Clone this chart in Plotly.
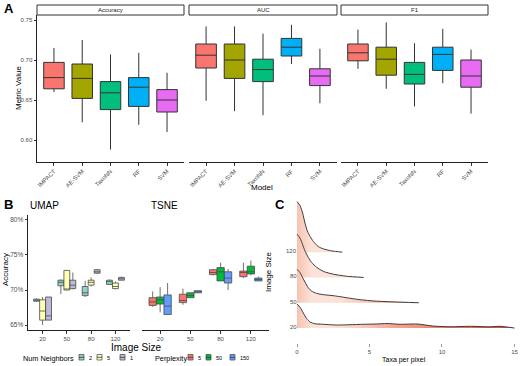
import plotly.graph_objects as go

W, H = 520, 366
FONT = "Liberation Sans, Arial, sans-serif"

# ---------------- Panel A data ----------------
models = ["IMPACT", "AE-SVM", "TaxoNN", "RF", "SVM"]
metrics = ["Accuracy", "AUC", "F1"]
model_colors = ["#F8766D", "#A3A500", "#00BF7D", "#00B0F6", "#E76BF3"]

acc_low = [0.660, 0.622, 0.588, 0.619, 0.610]
acc_q1 = [0.664, 0.652, 0.638, 0.642, 0.635]
acc_med = [0.678, 0.677, 0.659, 0.666, 0.650]
acc_q3 = [0.697, 0.695, 0.673, 0.678, 0.663]
acc_high = [0.715, 0.725, 0.707, 0.709, 0.684]

auc_low = [0.649, 0.636, 0.631, 0.695, 0.646]
auc_q1 = [0.690, 0.677, 0.673, 0.705, 0.668]
auc_med = [0.706, 0.700, 0.688, 0.716, 0.680]
auc_q3 = [0.720, 0.720, 0.701, 0.727, 0.689]
auc_high = [0.742, 0.742, 0.733, 0.744, 0.714]

f1_low = [0.689, 0.664, 0.642, 0.671, 0.633]
f1_q1 = [0.699, 0.681, 0.670, 0.687, 0.666]
f1_med = [0.709, 0.701, 0.682, 0.707, 0.680]
f1_q3 = [0.720, 0.716, 0.697, 0.716, 0.700]
f1_high = [0.738, 0.747, 0.721, 0.739, 0.713]

# ---------------- Panel B data ----------------
image_sizes = ["20", "50", "80", "120"]
neighbors = ["2", "5", "1"]
neighbor_colors = ["#8DD3C7", "#FFFFB3", "#BEBADA"]
umap_low = [[68.3, 69.4, 69.0, 70.8], [65.0, 70.0, 70.5, 70.1], [65.7, 70.1, 72.3, 71.4]]
umap_q1 = [[68.4, 70.6, 69.2, 70.8], [65.7, 70.0, 70.7, 70.2], [65.7, 70.2, 72.4, 71.4]]
umap_med = [[68.5, 71.1, 69.6, 71.2], [67.0, 70.1, 71.1, 70.5], [66.3, 70.7, 72.6, 71.6]]
umap_q3 = [[68.7, 71.4, 70.5, 71.4], [68.6, 72.8, 71.4, 71.0], [69.0, 71.4, 72.9, 71.8]]
umap_high = [[68.8, 71.5, 71.3, 71.5], [69.0, 72.8, 71.8, 71.2], [69.0, 72.5, 73.0, 71.9]]

perplexities = ["5", "50", "150"]
perp_colors = ["#F8766D", "#00BA38", "#619CFF"]
tsne_low = [[67.6, 67.9, 72.1, 71.7], [66.8, 68.9, 71.3, 72.1], [66.5, 69.6, 70.0, 71.3]]
tsne_q1 = [[67.8, 68.2, 72.2, 71.9], [68.0, 68.9, 71.3, 72.3], [66.5, 69.6, 71.0, 71.3]]
tsne_med = [[68.3, 68.5, 72.5, 72.5], [68.6, 69.2, 72.6, 72.6], [67.7, 69.7, 71.7, 71.5]]
tsne_q3 = [[68.9, 69.4, 72.9, 72.7], [69.0, 69.6, 73.2, 73.4], [69.3, 69.9, 72.6, 71.7]]
tsne_high = [[69.8, 70.2, 73.0, 73.9], [70.4, 69.6, 73.9, 74.2], [71.0, 69.9, 73.0, 71.9]]

# ---------------- Panel C data (density ridges) ----------------
ridge_labels = ["20", "50", "80", "120"]
ridge20_x = [0, 0.21, 0.44, 0.67, 0.9, 1.24, 1.82, 2.7, 3.6, 4.6, 5.5, 6.2, 7.1, 8.3, 9.4, 10.6, 11.9, 13.3, 14.0, 15.0]
ridge20_d = [0.95, 0.82, 0.59, 0.37, 0.24, 0.17, 0.15, 0.12, 0.13, 0.15, 0.16, 0.18, 0.15, 0.16, 0.08, 0.05, 0.07, 0.05, 0.07, 0.0]
ridge50_x = [0, 0.21, 0.39, 0.55, 0.78, 1.01, 1.36, 1.82, 2.5, 3.2, 4.1, 5.3, 6.4, 8.4]
ridge50_d = [1.32, 1.19, 0.99, 0.82, 0.59, 0.46, 0.37, 0.32, 0.28, 0.22, 0.14, 0.07, 0.04, 0.0]
ridge80_x = [0, 0.21, 0.39, 0.55, 0.78, 1.01, 1.36, 1.82, 2.5, 3.4, 4.6]
ridge80_d = [1.71, 1.55, 1.29, 1.05, 0.79, 0.59, 0.40, 0.24, 0.13, 0.05, 0.0]
ridge120_x = [0, 0.21, 0.39, 0.55, 0.71, 0.9, 1.13, 1.47, 1.82, 2.39, 3.13]
ridge120_d = [2.0, 1.84, 1.54, 1.15, 0.84, 0.62, 0.42, 0.22, 0.13, 0.05, 0.0]
c_ticks = [0, 5, 10, 15]


def px(x):
    return x / W


def py(y):
    return 1 - y / H


fig = go.Figure()

# ---- Panel A boxes ----
stats = {
    "Accuracy": (acc_low, acc_q1, acc_med, acc_q3, acc_high),
    "AUC": (auc_low, auc_q1, auc_med, auc_q3, auc_high),
    "F1": (f1_low, f1_q1, f1_med, f1_q3, f1_high),
}
for k, m in enumerate(metrics):
    lo, q1, md, q3, hi = stats[m]
    xa = "x" if k == 0 else f"x{k+1}"
    ya = "y" if k == 0 else f"y{k+1}"
    for i, mod in enumerate(models):
        fig.add_trace(go.Box(
            x=[mod], lowerfence=[lo[i]], q1=[q1[i]], median=[md[i]], q3=[q3[i]], upperfence=[hi[i]],
            xaxis=xa, yaxis=ya, offsetgroup="A", fillcolor=model_colors[i],
            line=dict(color="#333333", width=1), whiskerwidth=0, boxpoints=False,
            showlegend=False, hoverinfo="skip"))

# ---- Panel B boxes ----
for j, nb in enumerate(neighbors):
    fig.add_trace(go.Box(
        x=image_sizes, lowerfence=umap_low[j], q1=umap_q1[j], median=umap_med[j], q3=umap_q3[j],
        upperfence=umap_high[j], xaxis="x4", yaxis="y4", offsetgroup=f"u{j}",
        fillcolor=neighbor_colors[j], line=dict(color="#4a4a4a", width=0.8), whiskerwidth=0,
        boxpoints=False, showlegend=False, hoverinfo="skip"))
for j, pp in enumerate(perplexities):
    fig.add_trace(go.Box(
        x=image_sizes, lowerfence=tsne_low[j], q1=tsne_q1[j], median=tsne_med[j], q3=tsne_q3[j],
        upperfence=tsne_high[j], xaxis="x5", yaxis="y5", offsetgroup=f"t{j}",
        fillcolor=perp_colors[j], line=dict(color="#4a4a4a", width=0.8), whiskerwidth=0,
        boxpoints=False, showlegend=False, hoverinfo="skip"))

# ---- Panel C ridges ----
ridges = [(ridge120_x, ridge120_d, 3), (ridge80_x, ridge80_d, 2), (ridge50_x, ridge50_d, 1), (ridge20_x, ridge20_d, 0)]
cscale = [[0.0, "#F8C3B0"], [0.07, "#FCE3D9"], [0.2, "#FCE0D5"], [0.45, "#F6A590"],
          [0.75, "#E8705A"], [1.0, "#D2402C"]]
for xs, ds, base in ridges:
    ys = [base + d for d in ds]
    poly_x = list(xs) + [xs[-1], xs[0]]
    poly_y = ys + [base, base]
    fig.add_trace(go.Scatter(
        x=poly_x, y=poly_y, mode="lines", fill="toself", line=dict(width=0),
        fillgradient=dict(type="horizontal", colorscale=cscale, start=0, stop=15),
        xaxis="x6", yaxis="y6", showlegend=False, hoverinfo="skip"))
    fig.add_trace(go.Scatter(
        x=xs, y=ys, mode="lines", line=dict(color="#3c3c3c", width=1, shape="spline", smoothing=0.7),
        xaxis="x6", yaxis="y6", showlegend=False, hoverinfo="skip"))

tickfont = dict(family=FONT, size=6, color="#4d4d4d")
common_x = dict(type="category", showgrid=False, zeroline=False, showline=True, linecolor="#222",
                linewidth=1, ticks="outside", ticklen=2.5, tickcolor="#333", tickfont=tickfont)

layout = dict(
    width=W, height=H, margin=dict(l=0, r=0, t=0, b=0),
    paper_bgcolor="white", plot_bgcolor="white",
    boxmode="group", boxgap=0.26, boxgroupgap=0.02,
    font=dict(family=FONT),
)
# Panel A axes
a_dom = [(37, 184), (189, 337), (341, 488)]
for k, (l, r) in enumerate(a_dom):
    xn = "xaxis" if k == 0 else f"xaxis{k+1}"
    yn = "yaxis" if k == 0 else f"yaxis{k+1}"
    anchor_y = "y" if k == 0 else f"y{k+1}"
    anchor_x = "x" if k == 0 else f"x{k+1}"
    layout[xn] = dict(common_x, domain=[px(l), px(r)], anchor=anchor_y, range=[-0.6, 4.6],
                      categoryorder="array", categoryarray=models, tickangle=-45)
    ydict = dict(domain=[py(162), py(15)], anchor=anchor_x, range=[0.5725, 0.75625],
                 showgrid=False, zeroline=False)
    if k == 0:
        ydict.update(showline=True, linecolor="#222", linewidth=1, ticks="outside", ticklen=2.5,
                     tickcolor="#333", tickvals=[0.60, 0.65, 0.70, 0.75],
                     ticktext=["0.60", "0.65", "0.70", "0.75"], tickfont=tickfont)
    else:
        ydict.update(showline=False, showticklabels=False, ticks="")
    layout[yn] = ydict

# Panel B axes
b_y = dict(domain=[py(330), py(215)], range=[64.29, 80.71], showgrid=False, zeroline=False)
layout["xaxis4"] = dict(common_x, domain=[px(28), px(130)], anchor="y4", range=[-0.6, 3.6],
                        categoryorder="array", categoryarray=image_sizes)
layout["yaxis4"] = dict(b_y, anchor="x4", showline=True, linecolor="#222", linewidth=1,
                        ticks="outside", ticklen=2.5, tickcolor="#333",
                        tickvals=[65, 70, 75, 80], ticktext=["65%", "70%", "75%", "80%"],
                        tickfont=dict(family=FONT, size=6.5, color="#4d4d4d"))
layout["xaxis5"] = dict(common_x, domain=[px(142), px(269)], anchor="y5", range=[-0.6, 3.6],
                        categoryorder="array", categoryarray=image_sizes)
layout["yaxis5"] = dict(b_y, anchor="x5", showline=False, showticklabels=False, ticks="")

# Panel C axes
layout["xaxis6"] = dict(domain=[px(293), 1.0], anchor="y6", range=[-0.276, 15.38], showgrid=False,
                        zeroline=False, showline=False, ticks="outside", ticklen=2.5, tickcolor="#999",
                        tickvals=c_ticks, ticktext=[str(t) for t in c_ticks], tickfont=tickfont)
layout["yaxis6"] = dict(domain=[py(343), py(196)], anchor="x6", range=[-0.59, 5.22], showgrid=False,
                        zeroline=False, showline=False, showticklabels=False, ticks="")
fig.update_layout(**layout)

ann = []
shapes = []


def text(x, y, s, size, color="#000", xanchor="center", yanchor="middle", angle=0, bold=False):
    ann.append(dict(x=px(x), y=py(y), xref="paper", yref="paper", text=f"<b>{s}</b>" if bold else s,
                    showarrow=False, xanchor=xanchor, yanchor=yanchor, textangle=angle,
                    font=dict(family=FONT, size=size, color=color)))


# Panel labels
text(2, 8, "A", 13, xanchor="left", bold=True)
text(2, 205, "B", 13, xanchor="left", bold=True)
text(273, 205, "C", 13, xanchor="left", bold=True)

# Panel A strips
for (l, r), m in zip(a_dom, metrics):
    shapes.append(dict(type="rect", xref="paper", yref="paper", x0=px(l), x1=px(r), y0=py(15), y1=py(5),
                       line=dict(color="#333", width=1), fillcolor="white"))
    text((l + r) / 2, 10, m, 6, color="#1a1a1a")
text(18, 88, "Metric Value", 8, angle=-90)
text(262, 187, "Model", 8)

# Panel B titles
text(28, 206, "UMAP", 10, xanchor="left")
text(149, 206, "TSNE", 10, xanchor="left")
text(5, 270, "Accuracy", 8, angle=-90)
text(136, 347.5, "Image Size", 10)

# Panel B legends
text(21, 358, "Num Neighbors", 7.3, xanchor="left")
leg_u = [(79, "2"), (97, "5"), (120, "1")]
for (kx, lab), col in zip(leg_u, neighbor_colors):
    shapes.append(dict(type="rect", xref="paper", yref="paper", x0=px(kx), x1=px(kx + 5), y0=py(360), y1=py(354.5),
                       line=dict(color="#555", width=0.8), fillcolor=col))
    shapes.append(dict(type="line", xref="paper", yref="paper", x0=px(kx), x1=px(kx + 5), y0=py(357.3), y1=py(357.3),
                       line=dict(color="#333", width=0.8)))
    text(kx + 8, 358, lab, 5.5, xanchor="left")
text(153, 358, "Perplexity", 7.3, xanchor="left")
leg_t = [(188, "5"), (206, "50"), (230, "150")]
for (kx, lab), col in zip(leg_t, perp_colors):
    shapes.append(dict(type="rect", xref="paper", yref="paper", x0=px(kx), x1=px(kx + 5), y0=py(360), y1=py(354.5),
                       line=dict(color="#555", width=0.8), fillcolor=col))
    shapes.append(dict(type="line", xref="paper", yref="paper", x0=px(kx), x1=px(kx + 5), y0=py(357.3), y1=py(357.3),
                       line=dict(color="#333", width=0.8)))
    text(kx + 8, 358, lab, 5.5, xanchor="left")

# Panel C labels
ann_y = {"20": 328, "50": 302.7, "80": 277.3, "120": 252}
for lab in ridge_labels:
    text(299, ann_y[lab] - 1, lab, 6, color="#4d4d4d", xanchor="right")
text(268, 272, "Image Size", 8, angle=-90)
text(404, 360, "Taxa per pixel", 7)

fig.update_layout(annotations=ann, shapes=shapes)
fig.write_html("out.html", config={"displayModeBar": False},
               post_script="document.body.style.margin='0';document.body.style.overflow='hidden';")
